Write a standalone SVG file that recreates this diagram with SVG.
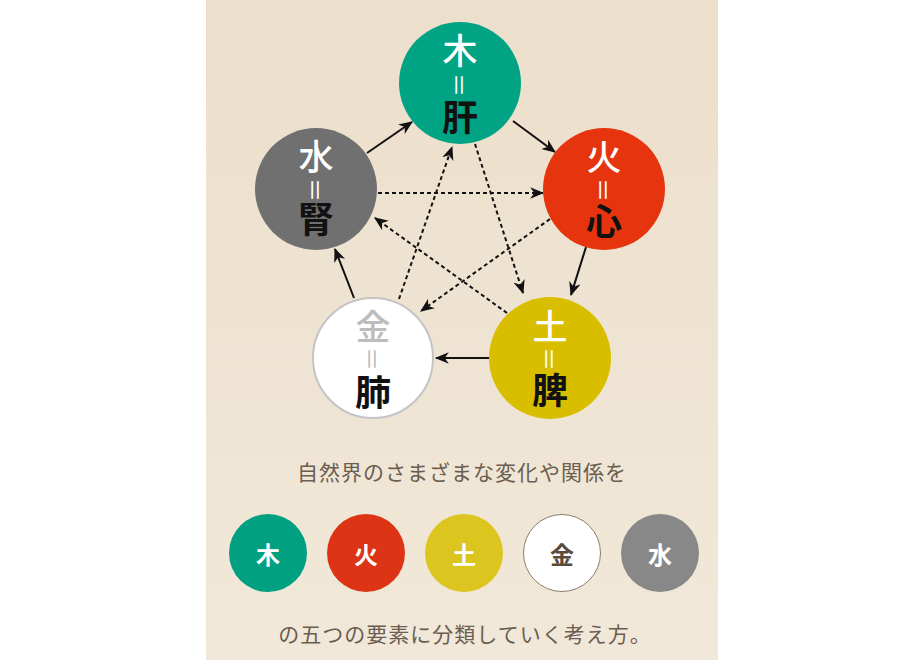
<svg xmlns="http://www.w3.org/2000/svg" width="924" height="660" viewBox="0 0 924 660">
<defs>
<linearGradient id="bg" x1="0" y1="0" x2="0" y2="1">
<stop offset="0" stop-color="#ECDFCB"/>
<stop offset="1" stop-color="#F1E8D9"/>
</linearGradient>
<marker id="ah" markerUnits="userSpaceOnUse" markerWidth="14" markerHeight="12" viewBox="0 0 12 10" refX="11" refY="5" orient="auto">
<path d="M0,0 L12,5 L0,10 L3.5,5 z" fill="#111"/>
</marker>
</defs>
<style>
.big{font-family:"Noto Sans CJK JP","Noto Sans CJK SC",sans-serif;font-size:35px;text-anchor:middle;font-weight:500}
.org{font-family:"Noto Sans CJK JP","Noto Sans CJK SC",sans-serif;font-size:36px;text-anchor:middle;font-weight:700;fill:#111}
.eq{font-family:"Noto Sans CJK JP","Noto Sans CJK SC",sans-serif;font-size:24px;text-anchor:middle;dominant-baseline:central}
.sm{font-family:"Noto Sans CJK JP","Noto Sans CJK SC",sans-serif;font-size:24px;text-anchor:middle;font-weight:700;dominant-baseline:central}
.cap{font-family:"Noto Sans CJK JP","Noto Sans CJK SC",sans-serif;font-size:21px;text-anchor:middle;fill:#6B5D50;letter-spacing:1px}
.solid{stroke:#111;stroke-width:2;fill:none;marker-end:url(#ah)}
.dash{stroke:#111;stroke-width:2;fill:none;stroke-dasharray:4 3;marker-end:url(#ah)}
</style>
<rect x="0" y="0" width="924" height="660" fill="#fff"/>
<rect x="206" y="0" width="512" height="660" fill="url(#bg)"/>

<g id="connectors">
<line class="solid" x1="367" y1="153" x2="412" y2="122"/>
<line class="solid" x1="513" y1="121" x2="555" y2="152"/>
<line class="solid" x1="586" y1="247" x2="571" y2="295"/>
<line class="solid" x1="489" y1="358" x2="436" y2="358"/>
<line class="solid" x1="354" y1="298" x2="335" y2="249"/>
<line class="dash" x1="378" y1="193" x2="543" y2="193"/>
<line class="dash" x1="399" y1="299" x2="452" y2="147"/>
<line class="dash" x1="475" y1="144" x2="523" y2="293"/>
<line class="dash" x1="550" y1="219" x2="421" y2="311"/>
<line class="dash" x1="507" y1="313" x2="375" y2="218"/>
</g>

<g id="node-moku">
<circle cx="460" cy="83" r="61" fill="#00A383"/>
<text class="big" x="460" y="64" fill="#fff">木</text>
<text class="eq" x="460" y="85" fill="#fff" transform="rotate(90 460 85)">＝</text>
<text class="org" x="460" y="131">肝</text>
</g>
<g id="node-ka">
<circle cx="604" cy="189" r="61" fill="#E5340E"/>
<text class="big" x="604" y="170" fill="#fff">火</text>
<text class="eq" x="604" y="190" fill="#fff" transform="rotate(90 604 190)">＝</text>
<text class="org" x="604" y="235">心</text>
</g>
<g id="node-do">
<circle cx="550" cy="358" r="61" fill="#D9BE00"/>
<text class="big" x="550" y="340" fill="#fff">土</text>
<text class="eq" x="550" y="359" fill="#fff" transform="rotate(90 550 359)">＝</text>
<text class="org" x="550" y="404">脾</text>
</g>
<g id="node-kin">
<circle cx="373" cy="358" r="60" fill="#fff" stroke="#c4c4c4" stroke-width="2"/>
<text class="big" x="373" y="340" fill="#BDBDBD">金</text>
<text class="eq" x="373" y="359" fill="#BDBDBD" transform="rotate(90 373 359)">＝</text>
<text class="org" x="373" y="406">肺</text>
</g>
<g id="node-sui">
<circle cx="316" cy="189" r="61" fill="#707070"/>
<text class="big" x="316" y="170" fill="#fff">水</text>
<text class="eq" x="316" y="190" fill="#fff" transform="rotate(90 316 190)">＝</text>
<text class="org" x="316" y="233">腎</text>
</g>

<g id="caption">
<text class="cap" x="462" y="480">自然界のさまざまな変化や関係を</text>
<text class="cap" x="465" y="642">の五つの要素に分類していく考え方。</text>
</g>

<g id="legend">
<g id="leg-moku"><circle cx="268" cy="553" r="39" fill="#00A080"/><text class="sm" x="268" y="553" fill="#fff">木</text></g>
<g id="leg-ka"><circle cx="366" cy="553" r="39" fill="#DC3414"/><text class="sm" x="366" y="553" fill="#fff">火</text></g>
<g id="leg-do"><circle cx="464" cy="553" r="39" fill="#DCC51F"/><text class="sm" x="464" y="553" fill="#fff">土</text></g>
<g id="leg-kin"><circle cx="562" cy="553" r="38.5" fill="#fff" stroke="#8C7B6A" stroke-width="1"/><text class="sm" x="562" y="553" fill="#5A4A3C">金</text></g>
<g id="leg-sui"><circle cx="660" cy="553" r="39" fill="#888888"/><text class="sm" x="660" y="553" fill="#fff">水</text></g>
</g>
</svg>
